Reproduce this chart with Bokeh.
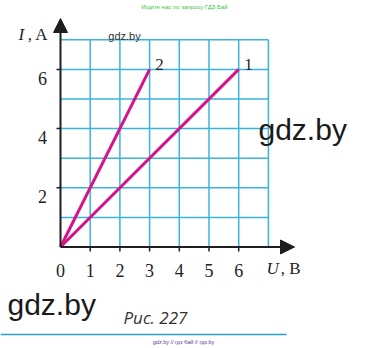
from bokeh.plotting import figure
from bokeh.models import Range1d, Arrow, NormalHead
from bokeh.core.properties import value
from bokeh.embed import file_html
from bokeh.resources import INLINE

# ---- data ----
line1_U = [0, 6]
line1_I = [0, 6]
line2_U = [0, 3]
line2_I = [0, 6]
x_ticks = [0, 1, 2, 3, 4, 5, 6]
y_ticks = [2, 4, 6]
grid_vals = [0, 1, 2, 3, 4, 5, 6, 7]
series_labels = ["1", "2"]

# ---- pixel mapping of canvas (for decorations) ----
W, H = 369, 348
X0, Y0 = 60.0, 246.5   # pixel position of origin
UX, UY = 29.7, 29.6    # pixels per unit

def X(px):
    return (px - X0) / UX

def Y(py):
    return (Y0 - py) / UY

p = figure(width=W, height=H, output_backend="svg", toolbar_location=None,
           x_range=Range1d(X(0), X(W)), y_range=Range1d(Y(H), Y(0)),
           min_border=0, x_axis_type=None, y_axis_type=None)
p.outline_line_color = None
p.xgrid.visible = False
p.ygrid.visible = False
p.background_fill_color = "white"

GRID = "#3ab4dc"
# grid
p.segment(x0=grid_vals[1:], y0=[0] * 7, x1=grid_vals[1:], y1=[7] * 7,
          line_color=GRID, line_width=1.5)
p.segment(x0=[0] * 7, y0=grid_vals[1:], x1=[7] * 7, y1=grid_vals[1:],
          line_color=GRID, line_width=1.5)

# axes with arrows
AX = "#1e1e1e"
p.add_layout(Arrow(x_start=0, y_start=0, x_end=0, y_end=Y(18),
                   line_color=AX, line_width=2,
                   end=NormalHead(size=14, fill_color=AX, line_color=AX)))
p.add_layout(Arrow(x_start=0, y_start=0, x_end=X(294), y_end=0,
                   line_color=AX, line_width=2,
                   end=NormalHead(size=14, fill_color=AX, line_color=AX)))
# ticks
p.segment(x0=[X(56)] * 3, y0=y_ticks, x1=[0] * 3, y1=y_ticks, line_color=AX, line_width=1.5)
p.segment(x0=x_ticks[1:], y0=[0] * 6, x1=x_ticks[1:], y1=[Y(251)] * 6, line_color=AX, line_width=1.5)

# data lines
MAG = "#d5138a"
p.line(line1_U, line1_I, line_color=MAG, line_width=3)
p.line(line2_U, line2_I, line_color=MAG, line_width=3)

SERIF = value("Liberation Serif")
TXT = "#1e1e1e"
# tick labels
p.text(x=x_ticks, y=[Y(270)] * 7, text=[str(v) for v in x_ticks],
       text_font=SERIF, text_font_size="18px", text_align="center",
       text_baseline="alphabetic", text_color=TXT)
p.text(x=[X(42)] * 3, y=[v - 9 / UY for v in y_ticks], text=[str(v) for v in y_ticks],
       text_font=SERIF, text_font_size="18px", text_align="center",
       text_baseline="alphabetic", text_color=TXT)

# series labels
p.text(x=[line1_U[-1] + X(248) - 6, line2_U[-1] + X(159) - 3],
       y=[Y(64), Y(64)], text=series_labels,
       text_font=SERIF, text_font_size="17px", text_align="center",
       text_baseline="alphabetic", text_color=TXT)

# axis titles
p.text(x=[X(18)], y=[Y(34)], text=["I"], text_font=SERIF, text_font_size="17px",
       text_font_style="italic", text_align="left", text_baseline="alphabetic", text_color=TXT)
p.text(x=[X(48)], y=[Y(34)], text=[", A"], text_font=SERIF, text_font_size="17px",
       text_align="right", text_baseline="alphabetic", text_color=TXT)
p.text(x=[X(266)], y=[Y(267.5)], text=["U"], text_font=SERIF, text_font_size="17px",
       text_font_style="italic", text_align="left", text_baseline="alphabetic", text_color=TXT)
p.text(x=[X(300)], y=[Y(267.5)], text=[", B"], text_font=SERIF, text_font_size="17px",
       text_align="right", text_baseline="alphabetic", text_color=TXT)

# watermarks and caption
SANS = value("Liberation Sans")
p.text(x=[X(124)], y=[Y(35)], text=["gdz.by"], text_font=SANS, text_font_size="11px",
       text_align="center", text_baseline="alphabetic", text_color="#333333")
p.text(x=[X(258), X(7)], y=[Y(129), Y(304)], text=["gdz.by", "gdz.by"], text_font=SANS,
       text_font_size="30px", text_align="left", text_baseline="alphabetic", text_color="#1a1a1a")
p.text(x=[X(123)], y=[Y(317)], text=["Рис. 227"], text_font=value("Open Sans"),
       text_font_size="17px", text_font_style="italic", text_align="left",
       text_baseline="alphabetic", text_color="#333333")
p.text(x=[X(184)], y=[Y(6)], text=["Ищите нас по запросу ГДЗ Бай"], text_font=SANS,
       text_font_size="6px", text_align="center", text_baseline="middle", text_color="#3cc83c")
p.text(x=[X(183)], y=[Y(341)], text=["gdz.by // гдз бай // гдз.by"], text_font=SANS,
       text_font_size="5.5px", text_align="center", text_baseline="middle", text_color="#5a3a9a")
p.segment(x0=[X(0)], y0=[Y(334)], x1=[X(286)], y1=[Y(334)], line_color="#2a9fc0", line_width=1.5)

open("out.html", "w").write(file_html(p, INLINE))
